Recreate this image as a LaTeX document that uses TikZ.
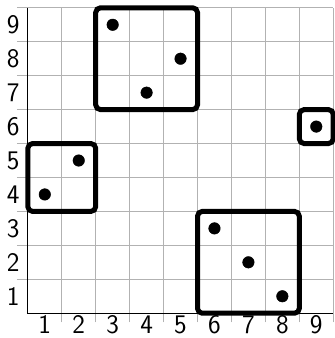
\documentclass[tikz,border=0pt]{standalone}
\usepackage{tikz}
\tikzset{
    gridline/.style={gray!60, line width=0.8pt},
    blockbox/.style={line width=4.2pt, rounded corners=4pt},
    ticklabel/.style={font=\sffamily\fontsize{22.5}{27}\selectfont, inner sep=0pt},
}

\begin{document}
\begin{tikzpicture}
    \useasboundingbox (-0.82,-0.73) rectangle (9.05,9.23);
    \foreach \i in {1,...,9} {
        \draw[gridline] (\i,-0.27)--(\i,9);
        \draw[gridline] (-0.32,\i)--(9,\i);
        \node[ticklabel] (col\i) at (\i-0.5,-0.34) {\i};
        \node[ticklabel] (row\i) at (-0.43,\i-0.5) {\i};
    }
    \draw[line width=0.8pt] (0,9)--(0,0)--(9,0);
    %\\
    \filldraw[black] (0.5,3.5) circle(0.17);
    \filldraw[black] (1.5,4.5) circle(0.17);
    \filldraw[black] (2.5,8.5) circle(0.17);
    \filldraw[black] (3.5,6.5) circle(0.17);
    \filldraw[black] (4.5,7.5) circle(0.17);
    \filldraw[black] (5.5,2.5) circle(0.17);
    \filldraw[black] (6.5,1.5) circle(0.17);
    \filldraw[black] (7.5,0.5) circle(0.17);
    \filldraw[black] (8.5,5.5) circle(0.17);
    %\\
    \draw[blockbox] (0,3) rectangle (2,5);
    \draw[blockbox] (2,6) rectangle (5,9);
    \draw[blockbox] (5,0) rectangle (8,3);
    \draw[blockbox] (8,5) rectangle (9,6);
\end{tikzpicture}
\end{document}
